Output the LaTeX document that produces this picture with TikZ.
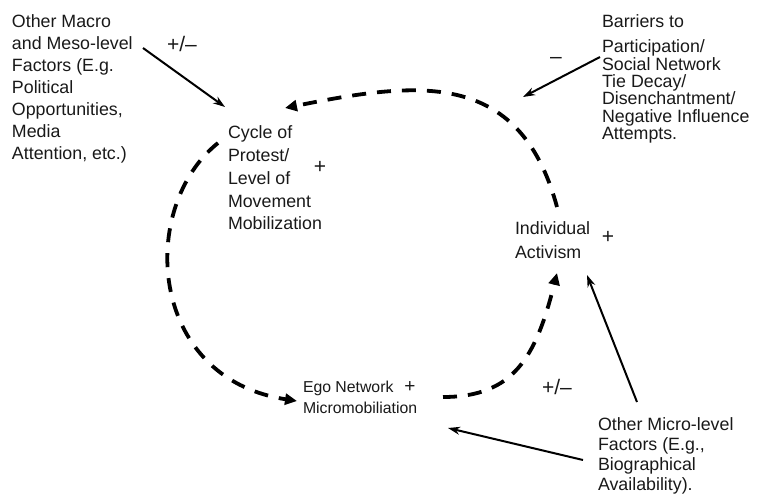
\documentclass[tikz,border=0pt]{standalone}
\usepackage{fontspec}
\setmainfont{Liberation Sans}
\usetikzlibrary{arrows.meta}
\begin{document}
\begin{tikzpicture}[x=1pt,y=-1pt,
  lbl/.style={inner sep=0pt, outer sep=0pt, anchor=north west, align=left, text=black!90, font=\fontsize{17.8}{22}\selectfont},
  sgn/.style={inner sep=0pt, text=black!90, font=\fontsize{21}{22}\selectfont},
  cyclearrow/.style={line width=3.8pt, dash pattern=on 14pt off 11pt, -{Triangle[length=12pt,width=11pt]}},
  factorarrow/.style={line width=2pt, -{Stealth[length=12pt,width=8pt]}}
]
\useasboundingbox (0,0) rectangle (757,495);

% text blocks
\node[lbl] (macro) at (12,15) {Other Macro\\and Meso-level\\Factors (E.g.\\Political\\Opportunities,\\Media\\Attention, etc.)};
\node[lbl, font=\fontsize{17.8}{22.75}\selectfont] (cycle) at (228,126) {Cycle of\\Protest/\\Level of\\Movement\\Mobilization};
\node[lbl, font=\fontsize{17.8}{17.4}\selectfont] (barriers) at (602,15) {Barriers to\\[7.5pt]Participation/\\Social Network\\Tie Decay/\\Disenchantment/\\Negative Influence\\Attempts.};
\node[lbl, font=\fontsize{17.8}{24}\selectfont] (indiv) at (515,222) {Individual\\Activism};
\node[lbl, font=\fontsize{15.8}{21}\selectfont] (ego) at (303,381) {Ego Network\\Micromobiliation};
\node[lbl, font=\fontsize{17.8}{20}\selectfont] (micro) at (598,418) {Other Micro-level\\Factors (E.g.,\\Biographical\\Availability).};

% signs
\node[sgn] (pmacro) at (182,44) {+/–};
\node[sgn] (pcycle) at (320,167) {+};
\node[sgn] (pbar) at (556,60) {–};
\node[sgn] (pind) at (608,237) {+};
\node[sgn, font=\fontsize{19}{20}\selectfont] (pego) at (410,387) {+};
\node[sgn] (pmicro) at (557,387) {+/–};

% connector end points
\coordinate (cycTop) at (285,108);
\coordinate (cycLeft) at (218,143);
\coordinate (egoIn) at (297,401);
\coordinate (egoOut) at (443,397);
\coordinate (indIn) at (557,273);
\coordinate (indOut) at (557,207);
\coordinate (macroOut) at (143,48);
\coordinate (macroTip) at (225,107);
\coordinate (barOut) at (600,57);
\coordinate (barTip) at (523,97);
\coordinate (microOutA) at (637,402);
\coordinate (indTip) at (587,275);
\coordinate (microOutB) at (583,460);
\coordinate (egoTip) at (448,428);

% feedback cycle
\draw[cyclearrow] (indOut) .. controls (519,67) and (415,82) .. (cycTop);
\draw[cyclearrow] (cycLeft) .. controls (138,207) and (147,378) .. (egoIn);
\draw[cyclearrow] (egoOut) .. controls (513,397) and (535.75,358) .. (indIn);

% external factors
\draw[factorarrow] (macroOut) -- (macroTip);
\draw[factorarrow] (barOut) -- (barTip);
\draw[factorarrow] (microOutA) -- (indTip);
\draw[factorarrow] (microOutB) -- (egoTip);
\end{tikzpicture}
\end{document}
